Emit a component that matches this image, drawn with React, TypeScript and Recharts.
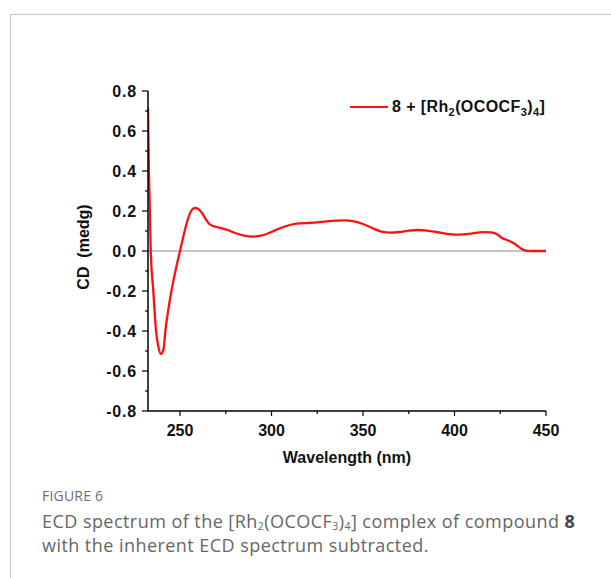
import { LineChart, Line, XAxis, YAxis, ReferenceLine } from "recharts";

// wavelength (nm) and CD (mdeg)
const wavelength = [
  232.5, 233, 234, 235.4, 236.9, 238, 239.6, 241, 242, 243.5, 245.3, 247.5, 250,
  252, 254, 256, 258, 260, 262, 264, 266, 268, 270, 273, 276, 280, 285, 290, 295,
  300, 305, 310, 315, 320, 325, 330, 335, 340, 345, 350, 355, 360, 365, 370, 375,
  380, 385, 390, 395, 400, 405, 410, 415, 420, 423, 426, 430, 433, 436, 439, 442,
  446, 450,
];
const cd = [
  0.72, 0.4, 0.0, -0.2, -0.4, -0.47, -0.515, -0.49, -0.4, -0.3, -0.2, -0.1, 0.0,
  0.08, 0.15, 0.2, 0.215, 0.21, 0.19, 0.16, 0.135, 0.125, 0.12, 0.113, 0.105,
  0.09, 0.077, 0.072, 0.078, 0.095, 0.115, 0.13, 0.138, 0.14, 0.143, 0.148, 0.152,
  0.153, 0.148, 0.135, 0.115, 0.097, 0.092, 0.095, 0.102, 0.105, 0.102, 0.095,
  0.087, 0.082, 0.083, 0.088, 0.094, 0.093, 0.085, 0.065, 0.05, 0.035, 0.015,
  0.002, 0, 0, 0,
];
const xTicks = [250, 275, 300, 325, 350, 375, 400, 425, 450];
const yTicks = [-0.8, -0.7, -0.6, -0.5, -0.4, -0.3, -0.2, -0.1, 0, 0.1, 0.2, 0.3, 0.4, 0.5, 0.6, 0.7, 0.8];

const data = wavelength.map((w, i) => ({ wl: w, cd: cd[i] }));

const chartFont = '"Liberation Sans", Arial, sans-serif';

function XTick({ x, y, payload }: any) {
  const major = payload.value % 50 === 0;
  return (
    <g>
      <line x1={x} y1={y} x2={x} y2={y + (major ? 5 : 3)} stroke="#000" strokeWidth={1.2} />
      {major && (
        <text x={x} y={y + 25} textAnchor="middle" fontFamily={chartFont} fontWeight="bold" fontSize={16} fill="#111">
          {payload.value}
        </text>
      )}
    </g>
  );
}

function YTick({ x, y, payload }: any) {
  const major = Math.round(payload.value * 10) % 2 === 0;
  return (
    <g>
      <line x1={x} y1={y} x2={x - (major ? 6 : 3)} y2={y} stroke="#000" strokeWidth={1.2} />
      {major && (
        <text x={x - 11} y={y} dy="0.36em" textAnchor="end" fontFamily={chartFont} fontWeight="bold" fontSize={16} letterSpacing={0.8} fill="#111">
          {payload.value.toFixed(1)}
        </text>
      )}
    </g>
  );
}

const sub = { fontSize: 11, lineHeight: 0 };
// caption subscripts: nudged down a little so they stay clear of the next line
const capSub = { fontSize: 10.5, lineHeight: 0, verticalAlign: "baseline", position: "relative" as const, top: 2 };

export default function App() {
  return (
    <div style={{ position: "absolute", left: 0, top: 0, width: 611, height: 578, background: "#fff", overflow: "hidden" }}>
      <div
        style={{
          position: "absolute",
          left: 10,
          top: 14,
          width: 640,
          height: 600,
          borderLeft: "1px solid #c8c8c8",
          borderTop: "1px solid #c8c8c8",
        }}
      />
      <div style={{ position: "absolute", left: 0, top: 0 }}>
        <LineChart width={611} height={480} data={data} margin={{ top: 91, right: 65, bottom: 39, left: 88 }}>
          <XAxis
            dataKey="wl"
            type="number"
            domain={[232.5, 450]}
            ticks={xTicks}
            allowDataOverflow
            height={30}
            tickSize={0}
            tickMargin={0}
            tickLine={false}
            tick={<XTick />}
            interval={0}
            axisLine={{ stroke: "#000", strokeWidth: 1.5 }}
          />
          <YAxis
            type="number"
            domain={[-0.8, 0.8]}
            ticks={yTicks}
            allowDataOverflow
            width={60}
            tickSize={0}
            tickMargin={0}
            tickLine={false}
            tick={<YTick />}
            interval={0}
            axisLine={{ stroke: "#000", strokeWidth: 1.5 }}
          />
          <ReferenceLine y={0} stroke="#8a8a8a" strokeWidth={1} />
          <Line
            dataKey="cd"
            type="monotone"
            stroke="#ff1010"
            strokeWidth={2.3}
            dot={false}
            isAnimationActive={false}
          />
        </LineChart>
      </div>
      {/* axis titles */}
      <div
        style={{
          position: "absolute",
          left: 84,
          top: 247,
          transform: "translate(-50%, -50%) rotate(-90deg)",
          fontFamily: chartFont,
          fontWeight: "bold",
          fontSize: 16,
          color: "#111",
          whiteSpace: "pre",
        }}
      >
        {"CD  (medg)"}
      </div>
      <div
        style={{
          position: "absolute",
          left: 347,
          top: 458,
          transform: "translate(-50%, -50%)",
          fontFamily: chartFont,
          fontWeight: "bold",
          fontSize: 16,
          color: "#111",
          whiteSpace: "nowrap",
        }}
      >
        Wavelength (nm)
      </div>
      {/* legend */}
      <div
        style={{
          position: "absolute",
          left: 350,
          top: 98,
          display: "flex",
          alignItems: "center",
          fontFamily: chartFont,
          fontWeight: "bold",
          fontSize: 16,
          color: "#111",
          whiteSpace: "nowrap",
        }}
      >
        <span style={{ display: "inline-block", width: 38, height: 2.3, background: "#ff1010", marginRight: 4 }} />
        <span style={{ letterSpacing: 0.4 }}>
          8 + [Rh<sub style={sub}>2</sub>(OCOCF<sub style={sub}>3</sub>)<sub style={sub}>4</sub>]
        </span>
      </div>
      {/* caption */}
      <div style={{ position: "absolute", left: 42, top: 486, fontFamily: '"Open Sans", sans-serif', color: "#6e6e6e", fontSize: 14, letterSpacing: 0.2 }}>
        FIGURE 6
      </div>
      <div
        style={{
          position: "absolute",
          left: 42,
          top: 509,
          width: 569,
          fontFamily: '"Open Sans", sans-serif',
          color: "#666",
          fontSize: 18,
          letterSpacing: 0.45,
          lineHeight: "24px",
          whiteSpace: "nowrap",
        }}
      >
        ECD spectrum of the [Rh<span style={capSub}>2</span>(OCOCF<span style={capSub}>3</span>)<span style={capSub}>4</span>] complex of compound <b style={{ color: "#444" }}>8</b>
        <br />
        with the inherent ECD spectrum subtracted.
      </div>
    </div>
  );
}
